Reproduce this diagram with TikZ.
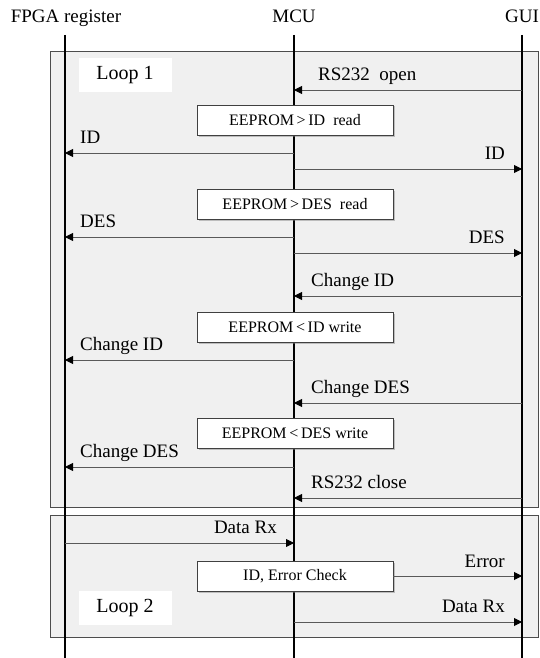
\documentclass[tikz,border=0pt]{standalone}
\usepackage{fontspec}
\setmainfont{Liberation Serif}
\usetikzlibrary{arrows.meta,shadows}

\begin{document}
\begin{tikzpicture}[x=1pt, y=-1pt,
  every node/.style={inner sep=0pt},
  head/.style={anchor=base, font=\fontsize{19}{22}\selectfont},
  lbl/.style={font=\fontsize{19}{22}\selectfont},
  loopbox/.style={draw=gray!60!black, line width=1pt, fill=gray!12},
  looptag/.style={fill=white, minimum width=93pt, minimum height=34pt,
    font=\fontsize{20}{24}\selectfont},
  life/.style={line width=2.8pt},
  msg/.style={draw=black!65, line width=0.9pt,
    -{Triangle[length=8pt,width=8pt,color=black]}},
  task/.style={draw=black!75, fill=white, line width=0.8pt,
    minimum width=196pt, minimum height=30pt,
    font=\fontsize{16}{19}\selectfont,
    drop shadow={shadow xshift=1.5pt, shadow yshift=-1.5pt, opacity=0.45}}]
\useasboundingbox (0,0) rectangle (540,658);

\draw[loopbox] (50,52) rectangle (538,507);
\draw[loopbox] (50,515) rectangle (538,637);
\node[looptag] (loop1) at (125,75) {Loop 1};
\node[looptag] (loop2) at (125,608) {Loop 2};

\node[head] (fpgaL) at (66,23) {FPGA register};
\node[head] (mcuL) at (294,23) {MCU};
\node[head] (guiL) at (522,23) {GUI};
\coordinate (fpga) at (65,35);
\coordinate (mcu) at (294,35);
\coordinate (gui) at (522,35);
\coordinate (bottom) at (0,658);
\draw[life] (fpga) -- (fpga |- bottom);
\draw[life] (mcu) -- (mcu |- bottom);
\draw[life] (gui) -- (gui |- bottom);

\coordinate (m1) at (0,90);
\coordinate (m2) at (0,153);
\coordinate (m3) at (0,169);
\coordinate (m4) at (0,237);
\coordinate (m5) at (0,253);
\coordinate (m6) at (0,296);
\coordinate (m7) at (0,360);
\coordinate (m8) at (0,403);
\coordinate (m9) at (0,467);
\coordinate (m10) at (0,498);
\coordinate (m11) at (0,543);
\coordinate (m12) at (0,622);

\draw[msg] (gui |- m1) -- (mcu |- m1);
\draw[msg] (mcu |- m2) -- (fpga |- m2);
\draw[msg] (mcu |- m3) -- (gui |- m3);
\draw[msg] (mcu |- m4) -- (fpga |- m4);
\draw[msg] (mcu |- m5) -- (gui |- m5);
\draw[msg] (gui |- m6) -- (mcu |- m6);
\draw[msg] (mcu |- m7) -- (fpga |- m7);
\draw[msg] (gui |- m8) -- (mcu |- m8);
\draw[msg] (mcu |- m9) -- (fpga |- m9);
\draw[msg] (gui |- m10) -- (mcu |- m10);
\draw[msg] (fpga |- m11) -- (mcu |- m11);
\draw[msg] (mcu |- m12) -- (gui |- m12);

\node[task] (idrd) at (295,120) {EEPROM\,>\,ID~~read};
\node[task] (desrd) at (295,204) {EEPROM\,>\,DES~~read};
\node[task] (idwr) at (295,327) {EEPROM\,<\,ID write};
\node[task] (deswr) at (295,433) {EEPROM\,<\,DES write};
\node[task] (chk) at (295,576) {ID, Error Check};
\draw[msg] (chk.east) -- (gui |- chk.east);

\node[lbl, anchor=base west] (t1) at (318,81) {RS232~~open};
\node[lbl, anchor=base west] (t2) at (80,143) {ID};
\node[lbl, anchor=base east] (t3) at (505,159) {ID};
\node[lbl, anchor=base west] (t4) at (80,227) {DES};
\node[lbl, anchor=base east] (t5) at (505,243) {DES};
\node[lbl, anchor=base west] (t6) at (311,286) {Change ID};
\node[lbl, anchor=base west] (t7) at (80,350) {Change ID};
\node[lbl, anchor=base west] (t8) at (311,393) {Change DES};
\node[lbl, anchor=base west] (t9) at (80,457) {Change DES};
\node[lbl, anchor=base west] (t10) at (311,488) {RS232 close};
\node[lbl, anchor=base east] (t11) at (277,533) {Data Rx};
\node[lbl, anchor=base east] (t12) at (505,567) {Error};
\node[lbl, anchor=base east] (t13) at (505,612) {Data Rx};
\end{tikzpicture}
\end{document}
